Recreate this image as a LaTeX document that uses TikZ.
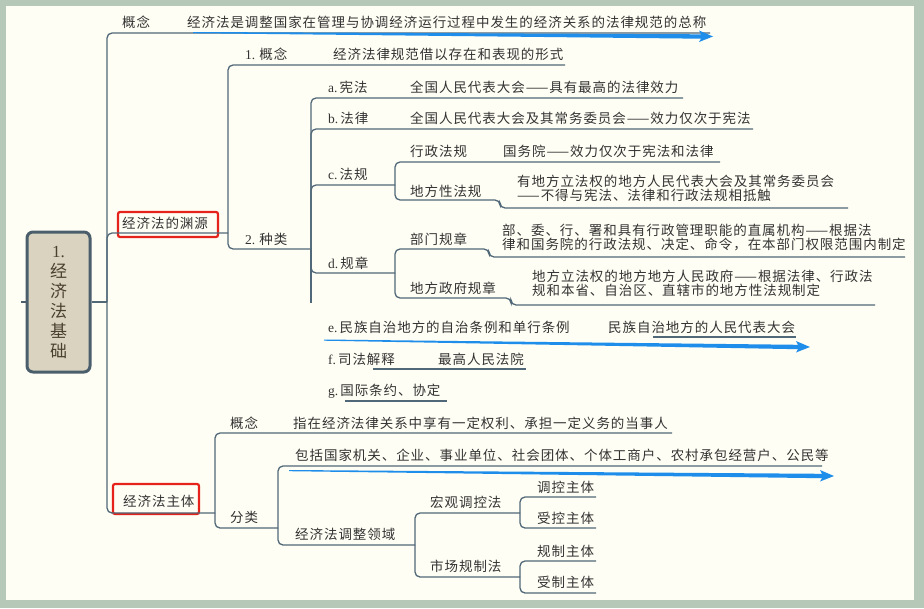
\documentclass[tikz,border=0pt]{standalone}
\usepackage{fontspec}
\setmainfont{Noto Sans CJK SC}[LetterSpace=7]
\newfontfamily\lat{Liberation Serif}
\usetikzlibrary{calc}
\definecolor{bgout}{HTML}{B6C8B8}
\definecolor{bgin}{HTML}{FFFEF4}
\definecolor{ln}{HTML}{506878}
\definecolor{txt}{HTML}{333333}
\definecolor{rootfill}{HTML}{D9D3BF}
\definecolor{rootline}{HTML}{4A5E6B}
\definecolor{roottext}{HTML}{4B4030}
\definecolor{mark}{HTML}{E5231B}
\definecolor{arr}{HTML}{1F8EEB}
\newcommand\tarrow[2]{\fill[arr] ($(#1)+(0,-0.5)$) -- ($(#2)+(-12,-2.2)$) -- ($(#2)+(-14,-6)$) -- (#2) -- ($(#2)+(-14,5.5)$) -- ($(#2)+(-12,2.2)$) -- ($(#1)+(0,0.7)$) -- cycle;}
\begin{document}
\begin{tikzpicture}[x=1pt,y=-1pt,
  lbl/.style={anchor=west, inner sep=0pt, text=txt, font=\fontsize{13.5}{11.5}\selectfont},
  lbl2/.style={lbl, align=left},
  conn/.style={draw=ln, line width=1.3pt, rounded corners=5pt},
  uline/.style={draw=ln, line width=1.3pt},
  redbox/.style={draw=mark, line width=2.2pt, rounded corners=2pt},
  rootbox/.style={draw=rootline, fill=rootfill, line width=3pt, rounded corners=6pt,
    minimum width=63pt, minimum height=140pt, inner sep=0pt, align=center, text=roottext,
    font=\fontsize{17}{20}\selectfont}]
\useasboundingbox (0,0) rectangle (924,608);
\fill[bgout] (0,0) rectangle (924,608);
\fill[bgin] (6,6) rectangle (914,600);

% root
\node[rootbox] (root) at (58.5,302) {{\lat 1.}\\经\\济\\法\\基\\础};
\coordinate (stub) at (21,302);
\draw[draw=rootline, line width=2.5pt] (stub) -- (root.west);
\coordinate (j0) at (107,302);

% level 1 texts
\node[lbl] (n1) at (122,22) {概念};
\node[lbl] (n1c) at (187,22) {经济法是调整国家在管理与协调经济运行过程中发生的经济关系的法律规范的总称};
\node[lbl] (n2) at (122,223) {经济法的渊源};
\node[lbl] (n3) at (123,501) {经济法主体};

% level 2 under 渊源
\node[lbl] (n21) at (245,54) {{\lat 1.}\hspace{4pt}概念};
\node[lbl] (n21c) at (333,54) {经济法律规范借以存在和表现的形式};
\node[lbl] (n22) at (245,239) {{\lat 2.}\hspace{4pt}种类};

% level 3 under 种类
\node[lbl] (na) at (328,87) {{\lat a.}\hspace{2pt}宪法};
\node[lbl] (nac) at (410,87) {全国人民代表大会——具有最高的法律效力};
\node[lbl] (nb) at (328,118) {{\lat b.}\hspace{2pt}法律};
\node[lbl] (nbc) at (410,118) {全国人民代表大会及其常务委员会——效力仅次于宪法};
\node[lbl] (nc) at (328,174) {{\lat c.}\hspace{2pt}法规};
\node[lbl] (nc1) at (410,151) {行政法规};
\node[lbl] (nc1c) at (503,151) {国务院——效力仅次于宪法和法律};
\node[lbl] (nc2) at (410,191) {地方性法规};
\node[lbl2] (nc2c) at (517,188.5) {有地方立法权的地方人民代表大会及其常务委员会\\——不得与宪法、法律和行政法规相抵触};
\node[lbl] (nd) at (328,263) {{\lat d.}\hspace{2pt}规章};
\node[lbl] (nd1) at (410,239) {部门规章};
\node[lbl2] (nd1c) at (502,237.5) {部、委、行、署和具有行政管理职能的直属机构——根据法\\律和国务院的行政法规、决定、命令，在本部门权限范围内制定};
\node[lbl] (nd2) at (410,288) {地方政府规章};
\node[lbl2] (nd2c) at (532,283.5) {地方立法权的地方地方人民政府——根据法律、行政法\\规和本省、自治区、直辖市的地方性法规制定};
\node[lbl] (ne) at (328,327) {{\lat e.}\hspace{2pt}民族自治地方的自治条例和单行条例};
\node[lbl] (nec) at (608,327) {民族自治地方的人民代表大会};
\node[lbl] (nf) at (328,359) {{\lat f.}\hspace{2pt}司法解释};
\node[lbl] (nfc) at (438,359) {最高人民法院};
\node[lbl] (ng) at (328,391) {{\lat g.}\hspace{2pt}国际条约、协定};

% level 2 under 主体
\node[lbl] (n31) at (230,423) {概念};
\node[lbl] (n31c) at (293,423) {指在经济法律关系中享有一定权利、承担一定义务的当事人};
\node[lbl] (n32) at (230,517) {分类};
\node[lbl] (n32a) at (295,455) {包括国家机关、企业、事业单位、社会团体、个体工商户、农村承包经营户、公民等};
\node[lbl] (n32b) at (295,534) {经济法调整领域};
\node[lbl] (n4a) at (430,502) {宏观调控法};
\node[lbl] (n4b) at (430,566) {市场规制法};
\node[lbl] (n5a) at (537,487) {调控主体};
\node[lbl] (n5b) at (537,518) {受控主体};
\node[lbl] (n5c) at (537,551) {规制主体};
\node[lbl] (n5d) at (537,582) {受制主体};

% red marks
\draw[redbox] (118,212) rectangle (218,237);
\draw[redbox] (113,484) rectangle (199,514);

% underline end coordinates
\coordinate (u1) at (710,33);
\coordinate (u2) at (228,233);
\coordinate (u3) at (215,513);
\coordinate (u21) at (565,65);
\coordinate (u22) at (311,249);
\coordinate (vend) at (311,303);
\coordinate (ua) at (683,98);
\coordinate (ub) at (753,129);
\coordinate (uc) at (395,185);
\coordinate (ud) at (395,273);
\coordinate (uc1) at (720,162);
\coordinate (sc2) at (500,200);
\coordinate (uc2) at (848,208);
\coordinate (sd1) at (489,249);
\coordinate (ud1) at (905,257);
\coordinate (sd2) at (511,298);
\coordinate (ud2) at (875,305);
\coordinate (ue0) at (653,337);
\coordinate (ue) at (796,337);
\coordinate (uf0) at (373,369);
\coordinate (uf) at (526,369);
\coordinate (ug0) at (345,401);
\coordinate (ug) at (447,401);
\coordinate (u31) at (672,433);
\coordinate (u32) at (278,528);
\coordinate (u32a) at (822,466);
\coordinate (u32b) at (415,545);
\coordinate (u4a) at (520,513);
\coordinate (u4b) at (520,577);
\coordinate (u5a) at (596,497);
\coordinate (u5b) at (596,528);
\coordinate (u5c) at (596,561);
\coordinate (u5d) at (596,593);

% connectors
\draw[conn] (root.east) -- (j0);
\draw[conn] (j0) |- (u1);
\draw[conn] (j0) |- (u2);
\draw[conn] (j0) |- (u3);
\draw[conn] (u2) |- (u21);
\draw[conn] (u2) |- (u22);
\draw[conn] (u22) -- (vend);
\draw[conn] (u22) |- (ua);
\draw[conn] (u22) |- (ub);
\draw[conn] (u22) |- (uc);
\draw[conn] (u22) |- (ud);
\draw[conn] (uc) |- (uc1);
\draw[conn] (uc) |- (sc2) -- (sc2 |- uc2) -- (uc2);
\draw[conn] (ud) |- (sd1) -- (sd1 |- ud1) -- (ud1);
\draw[conn] (ud) |- (sd2) -- (sd2 |- ud2) -- (ud2);
\draw[uline] (ue0) -- (ue);
\draw[uline] (uf0) -- (uf);
\draw[uline] (ug0) -- (ug);
\draw[conn] (u3) |- (u31);
\draw[conn] (u3) |- (u32);
\draw[conn] (u32) |- (u32a);
\draw[conn] (u32) |- (u32b);
\draw[conn] (u32b) |- (u4a);
\draw[conn] (u32b) |- (u4b);
\draw[conn] (u4a) |- (u5a);
\draw[conn] (u4a) |- (u5b);
\draw[conn] (u4b) |- (u5c);
\draw[conn] (u4b) |- (u5d);

% blue arrows
\coordinate (a1s) at (193,32.5);
\coordinate (a1t) at (713,36.5);
\coordinate (a2s) at (324,340);
\coordinate (a2t) at (810,347);
\coordinate (a3s) at (289,470.5);
\coordinate (a3t) at (834,476);
\tarrow{a1s}{a1t}
\tarrow{a2s}{a2t}
\tarrow{a3s}{a3t}
\end{tikzpicture}
\end{document}
